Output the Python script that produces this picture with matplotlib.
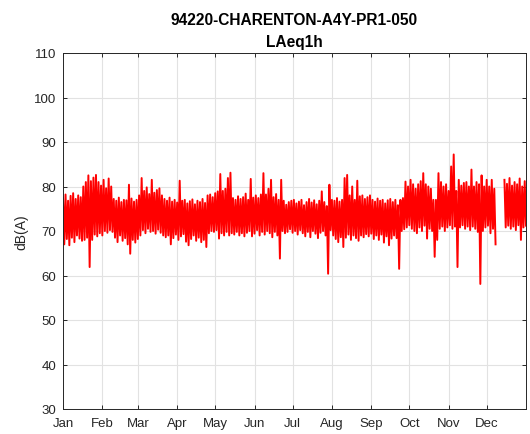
import numpy as np
import matplotlib.pyplot as plt

# month tick labels and month lengths (non-leap year)
months = ['Jan', 'Feb', 'Mar', 'Apr', 'May', 'Jun', 'Jul', 'Aug', 'Sep', 'Oct', 'Nov', 'Dec']
month_days = [31, 28, 31, 30, 31, 30, 31, 31, 30, 31, 30, 31]

# LAeq1h envelope, one (high, low) pair per 2 days, dB(A)
nan = np.nan
highs = [
    77.5, 78.2, 76.8, 77.9, 78.5, 77.2, 78.0, 77.6, 80.0, 81.0,
    82.5, 81.2, 82.0, 82.6, 81.0, 80.2, 81.5, 79.6, 81.8, 80.0,
    77.2, 76.8, 77.5, 76.5, 77.0, 76.9, 80.4, 77.3, 76.6, 77.0,
    78.0, 81.9, 79.0, 79.8, 78.3, 81.5, 78.6, 79.2, 79.6, 78.0,
    77.2, 76.8, 77.5, 76.6, 77.0, 76.4, 81.3, 76.8, 77.0, 76.2,
    76.7, 77.1, 76.0, 76.8, 76.5, 77.2, 76.3, 78.0, 78.2, 77.6,
    78.5, 78.9, 82.8, 79.0, 79.5, 81.9, 83.1, 77.4, 77.0, 77.8,
    77.2, 77.6, 78.4, 77.0, 81.7, 77.5, 78.0, 77.4, 78.2, 83.0,
    78.2, 79.5, 81.5, 77.6, 78.3, 77.0, 81.5, 76.8, 75.9, 76.5,
    76.8, 77.0, 76.2, 76.6, 77.0, 75.8, 76.5, 77.2, 76.4, 76.9,
    76.0, 76.8, 78.9, 76.5, 75.6, 80.4, 77.0, 76.8, 77.4, 76.6,
    77.0, 81.9, 82.6, 78.0, 80.0, 77.0, 81.3, 77.8, 78.0, 77.2,
    77.6, 78.0, 77.0, 76.6, 77.3, 76.8, 77.0, 76.2, 76.9, 77.2,
    76.5, 77.0, 75.8, 77.0, 77.4, 81.1, 80.0, 81.5, 80.5, 79.5,
    80.5, 81.2, 83.0, 80.5, 80.0, 79.5, 77.0, 77.0, 83.0, 81.0,
    80.0, 80.5, 79.0, 84.5, 87.2, 79.0, 81.5, 80.2, 80.8, 81.0,
    80.0, 83.8, 80.0, 81.0, 80.5, 82.5, 80.0, 81.5, 80.0, 81.5,
    79.5, nan, nan, nan, 81.5, 80.6, 81.9, 80.2, 81.0, 80.5,
    81.8, 80.0, 81.2,
]
lows = [
    67.0, 68.2, 66.8, 68.5, 67.5, 69.0, 68.3, 67.8, 68.0, 68.5,
    61.9, 68.0, 69.2, 68.8, 69.5, 69.0, 70.0, 69.6, 70.2, 69.8,
    68.5, 67.5, 69.0, 67.8, 68.4, 67.0, 64.9, 68.0, 67.4, 68.2,
    69.0, 70.2, 69.5, 70.5, 69.8, 70.0, 69.4, 70.3, 69.6, 69.0,
    68.6, 69.0, 67.0, 68.4, 69.2, 68.0, 68.8, 69.3, 67.6, 66.8,
    68.2, 69.0, 67.8, 68.5, 67.5, 68.0, 66.4, 69.5, 70.0, 69.8,
    70.2, 68.3, 69.5, 69.0, 69.8, 69.0, 69.5, 69.2, 69.8, 69.0,
    69.5, 68.8, 69.6, 70.0, 68.8, 69.4, 70.2, 69.0, 69.8, 69.2,
    70.0, 69.5, 68.6, 69.8, 69.0, 63.8, 70.0, 69.5, 69.8, 70.4,
    69.6, 70.0, 69.2, 70.2, 69.5, 68.8, 69.8, 68.6, 70.0, 69.4,
    68.4, 69.6, 70.0, 69.0, 60.4, 70.2, 69.0, 68.2, 67.5, 68.6,
    66.4, 68.5, 69.2, 68.0, 69.0, 68.4, 67.8, 69.0, 68.6, 69.3,
    68.8, 69.4, 68.2, 69.0, 68.0, 69.2, 67.4, 68.8, 66.8, 68.3,
    69.0, 68.4, 61.5, 70.0, 70.4, 70.8, 71.3, 70.5, 70.0, 69.5,
    70.8, 70.0, 71.2, 68.3, 70.5, 70.0, 64.2, 68.0, 70.5, 71.0,
    70.0, 70.8, 71.3, 70.5, 71.0, 61.9, 70.8, 71.3, 70.5, 71.0,
    70.2, 71.0, 70.5, 69.8, 58.1, 70.0, 70.8, 71.2, 69.5, 70.5,
    67.0, nan, nan, nan, 70.8, 71.2, 70.5, 71.0, 70.2, 71.3,
    68.0, 70.8, 71.2,
]

plt.rcParams['font.family'] = ['Liberation Sans', 'DejaVu Sans']

# interleave the pairs so the trace swings high -> low every day
n = len(highs)
days = np.arange(2 * n)
level = np.empty(2 * n)
level[0::2] = highs
level[1::2] = lows

fig = plt.figure(figsize=(5.3, 4.35), dpi=100)
ax = fig.add_axes([63 / 530, 25 / 435, 463 / 530, 356 / 435])

ax.plot(days, level, color='#ff0000', lw=1.4)

month_starts = np.concatenate([[0], np.cumsum(month_days)[:-1]])
ax.set_xticks(month_starts)
ax.set_xticklabels(months)
ax.set_xlim(0, 365)
ax.set_ylim(30, 110)
ax.set_yticks(np.arange(30, 111, 10))

ax.grid(True, color='#e2e2e2', lw=0.8)
ax.set_axisbelow(True)
ax.tick_params(direction='in', length=3, width=0.7, colors='#262626',
               labelsize=9.5, top=True, right=True)
ax.tick_params(axis='x', pad=6)
ax.tick_params(axis='y', pad=5)
for s in ax.spines.values():
    s.set_color('#262626')
    s.set_linewidth(0.7)

ax.set_ylabel('dB(A)', fontsize=10, color='#262626', labelpad=4)
ax.set_title('94220-CHARENTON-A4Y-PR1-050\nLAeq1h', fontsize=11.2,
             fontweight='bold', linespacing=1.55, pad=5)

fig.savefig('out.png', dpi=100)
